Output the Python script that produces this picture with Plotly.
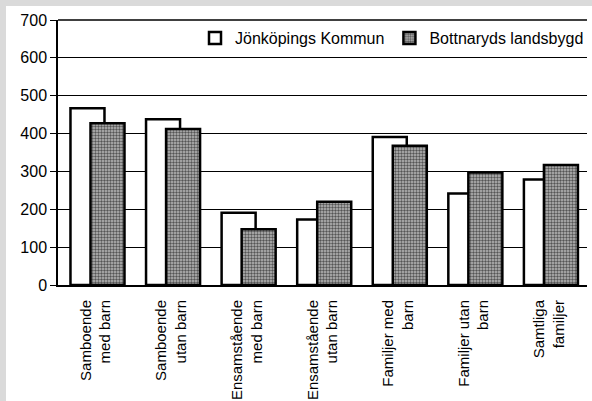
import plotly.graph_objects as go

categories = ["Samboende<br>med barn", "Samboende<br>utan barn", "Ensamstående<br>med barn",
              "Ensamstående<br>utan barn", "Familjer med<br>barn", "Familjer utan<br>barn",
              "Samtliga<br>familjer"]
jonkoping = [467, 438, 191, 173, 391, 242, 279]
bottnaryd = [427, 412, 147, 220, 368, 297, 317]
series_names = ["Jönköpings Kommun", "Bottnaryds landsbygd"]
y_ticks = [0, 100, 200, 300, 400, 500, 600, 700]

W, H = 592, 401
L, R, T, B = 58, 5, 20, 116
pw, ph = W - L - R, H - T - B

fig = go.Figure()
fig.add_trace(go.Bar(
    x=categories, y=jonkoping, name=series_names[0],
    width=0.45, offset=-0.335,
    marker=dict(color="white", line=dict(color="black", width=2.5)),
))
fig.add_trace(go.Bar(
    x=categories, y=bottnaryd, name=series_names[1],
    width=0.45, offset=-0.07,
    marker=dict(color="#a0a0a0", line=dict(color="black", width=2.5),
                pattern=dict(shape=".", fgcolor="#555555", bgcolor="#bbbbbb",
                             size=3, solidity=0.5, fillmode="replace")),
))

def px_x(p):
    return (p - L) / pw

def px_y(p):
    return (H - B - p) / ph

shapes = [
    dict(type="rect", xref="paper", yref="paper", x0=px_x(0), x1=px_x(W), y0=px_y(0), y1=px_y(6),
         fillcolor="#dadada", line=dict(width=0), layer="below"),
    dict(type="rect", xref="paper", yref="paper", x0=px_x(0), x1=px_x(6), y0=px_y(0), y1=px_y(H),
         fillcolor="#dadada", line=dict(width=0), layer="below"),
    dict(type="line", xref="paper", yref="paper", x0=0, x1=1, y0=1, y1=1,
         line=dict(color="black", width=1.5)),
]

fig.update_layout(
    width=W, height=H,
    margin=dict(l=L, r=R, t=T, b=B, pad=0, autoexpand=False),
    paper_bgcolor="white", plot_bgcolor="white",
    barmode="overlay",
    font=dict(family="Liberation Sans, Arial", size=16, color="black"),
    showlegend=True,
    legend=dict(orientation="h", x=px_x(195), y=px_y(38), xanchor="left", yanchor="middle",
                bgcolor="rgba(0,0,0,0)", font=dict(size=16), itemwidth=30,
                traceorder="normal"),
    shapes=shapes,
)
fig.update_xaxes(
    showline=True, linecolor="black", linewidth=2, tickangle=-90,
    ticks="", showgrid=False, tickfont=dict(size=15), range=[-0.5, 6.5],
    ticklabelstandoff=7, automargin=False,
)
fig.update_yaxes(
    range=[0, 700], tickvals=y_ticks, showline=True, linecolor="black", linewidth=1.5,
    ticks="outside", ticklen=6, tickcolor="black", showgrid=True, gridcolor="black",
    gridwidth=1, tickfont=dict(size=16), zeroline=False, automargin=False,
)

fig.write_html("out.html", config={"displayModeBar": False},
               post_script="document.body.style.margin='0';")
